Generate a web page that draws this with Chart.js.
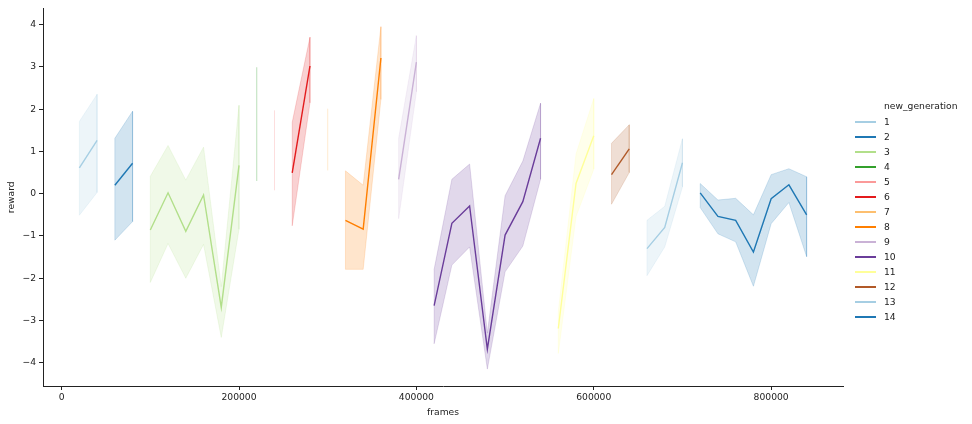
<!DOCTYPE html>
<html>
<head>
<meta charset="utf-8">
<script src="https://cdn.jsdelivr.net/npm/chart.js@4/dist/chart.umd.min.js"></script>
<style>
  html, body { margin: 0; padding: 0; background: #fff; }
  #wrap { position: relative; width: 972px; height: 424px; font-family: "DejaVu Sans", sans-serif; }
  #c { position: absolute; left: 0; top: 0; }
  #legend { position: absolute; left: 855px; top: 0; font-size: 9.2px; color: #222; }
  .lg-title { position: absolute; left: 29px; top: 100px; white-space: nowrap; }
  .lg-item { position: absolute; left: 0; height: 12px; width: 100px; }
  .lg-line { position: absolute; left: 0; top: 5px; width: 21px; height: 2px; }
  .lg-text { position: absolute; left: 29px; top: 0; line-height: 12px; }
</style>
</head>
<body>
<div id="wrap">
  <canvas id="c" width="972" height="424"></canvas>
  <div id="legend"></div>
</div>
<script>
// ---- data ----
const generations = [1, 2, 3, 4, 5, 6, 7, 8, 9, 10, 11, 12, 13, 14];
const palette = ['#a6cee3', '#1f78b4', '#b2df8a', '#33a02c', '#fb9a99', '#e31a1c', '#fdbf6f',
                 '#ff7f00', '#cab2d6', '#6a3d9a', '#ffff99', '#b15928', '#a6cee3', '#1f78b4'];
const frames = [
  [20000, 40000],
  [60000, 80000],
  [100000, 120000, 140000, 160000, 180000, 200000],
  [220000],
  [240000],
  [260000, 280000],
  [300000],
  [320000, 340000, 360000],
  [380000, 400000],
  [420000, 440000, 460000, 480000, 500000, 520000, 540000],
  [560000, 580000, 600000],
  [620000, 640000],
  [660000, 680000, 700000],
  [720000, 740000, 760000, 780000, 800000, 820000, 840000]
];
const rewardMean = [
  [0.61, 1.26],
  [0.20, 0.72],
  [-0.86, 0.02, -0.89, -0.03, -2.69, 0.67],
  [1.65],
  [1.02],
  [0.49, 3.02],
  [1.28],
  [-0.63, -0.84, 3.21],
  [0.34, 3.11],
  [-2.65, -0.70, -0.29, -3.68, -0.98, -0.19, 1.31],
  [-3.19, 0.24, 1.37],
  [0.45, 1.06],
  [-1.30, -0.80, 0.73],
  [0.02, -0.54, -0.63, -1.38, -0.12, 0.21, -0.50]
];
const rewardHigh = [
  [1.71, 2.35],
  [1.31, 1.95],
  [0.41, 1.14, 0.32, 1.10, -2.2, 2.09],
  [2.99],
  [1.97],
  [1.69, 3.70],
  [2.01],
  [0.54, 0.20, 3.95],
  [1.31, 3.74],
  [-1.79, 0.34, 0.70, -3.30, -0.05, 0.77, 2.14],
  [-2.80, 0.94, 2.25],
  [1.19, 1.63],
  [-0.63, -0.30, 1.30],
  [0.24, -0.15, -0.11, -0.50, 0.45, 0.59, 0.40]
];
const rewardLow = [
  [-0.51, 0.03],
  [-1.10, -0.66],
  [-2.10, -1.18, -2.00, -1.20, -3.40, -0.84],
  [0.30],
  [0.08],
  [-0.76, 2.15],
  [0.55],
  [-1.79, -1.79, 2.23],
  [-0.59, 2.41],
  [-3.55, -1.69, -1.26, -4.15, -1.85, -1.24, 0.34],
  [-3.78, -0.54, 0.58],
  [-0.25, 0.50],
  [-1.94, -1.26, 0.16],
  [-0.33, -0.95, -1.14, -2.19, -0.71, -0.21, -1.49]
];
const xTicks = [0, 200000, 400000, 600000, 800000];
const yTicks = [-4, -3, -2, -1, 0, 1, 2, 3, 4];

// ---- helpers ----
function rgba(hex, a) {
  const n = parseInt(hex.slice(1), 16);
  return `rgba(${(n >> 16) & 255},${(n >> 8) & 255},${n & 255},${a})`;
}

const datasets = [];
generations.forEach((g, i) => {
  const fx = frames[i];
  // mean line
  datasets.push({
    label: String(g),
    data: fx.map((x, k) => ({ x: x, y: rewardMean[i][k] })),
    borderColor: palette[i],
    backgroundColor: palette[i],
    borderWidth: 1.4,
    pointRadius: 0,
    fill: false,
    tension: 0
  });
  // confidence band (polygon: upper forward, lower back)
  const upper = fx.map((x, k) => ({ x: x, y: rewardHigh[i][k] }));
  const lower = fx.map((x, k) => ({ x: x, y: rewardLow[i][k] })).reverse();
  datasets.push({
    label: 'band' + g,
    data: upper.concat(lower).concat([upper[0]]),
    borderColor: rgba(palette[i], 0.2),
    backgroundColor: rgba(palette[i], 0.2),
    borderWidth: 0.9,
    pointRadius: 0,
    fill: 'shape',
    tension: 0
  });
});

const textColor = '#222';
const fontFam = '"DejaVu Sans", sans-serif';

new Chart(document.getElementById('c'), {
  type: 'scatter',
  data: { datasets: datasets.map(d => Object.assign({ showLine: true }, d)) },
  options: {
    responsive: false,
    animation: false,
    layout: { padding: { left: 0, right: 129, top: 6, bottom: 0 } },
    plugins: { legend: { display: false }, tooltip: { enabled: false } },
    scales: {
      x: {
        type: 'linear',
        min: -21000,
        max: 881000,
        afterFit: s => { s.height = 38; },
        afterBuildTicks: s => { s.ticks = xTicks.map(v => ({ value: v })); },
        ticks: {
          color: textColor, padding: 2, maxRotation: 0,
          font: { family: fontFam, size: 9.2 },
          callback: v => String(v)
        },
        grid: { drawOnChartArea: false, drawTicks: true, tickLength: 4, color: '#222', lineWidth: 1 },
        border: { display: true, color: '#222', width: 1 },
        title: { display: true, text: 'frames', color: textColor, font: { family: fontFam, size: 9.2 }, padding: { top: 0, bottom: 6 } }
      },
      y: {
        type: 'linear',
        min: -4.55,
        max: 4.38,
        afterFit: s => { s.width = 43; },
        afterBuildTicks: s => { s.ticks = yTicks.map(v => ({ value: v })); },
        ticks: {
          color: textColor, padding: 3,
          font: { family: fontFam, size: 9.2 },
          callback: v => (v < 0 ? '\u2212' + Math.abs(v) : String(v))
        },
        grid: { drawOnChartArea: false, drawTicks: true, tickLength: 4, color: '#222', lineWidth: 1 },
        border: { display: true, color: '#222', width: 1 },
        title: { display: true, text: 'reward', color: textColor, font: { family: fontFam, size: 9.2 }, padding: { top: 6, bottom: 0 } }
      }
    }
  }
});

// ---- legend (HTML) ----
const lg = document.getElementById('legend');
const t = document.createElement('div');
t.className = 'lg-title';
t.textContent = 'new_generation';
lg.appendChild(t);
generations.forEach((g, i) => {
  const it = document.createElement('div');
  it.className = 'lg-item';
  it.style.top = (116 + i * 15) + 'px';
  const ln = document.createElement('div');
  ln.className = 'lg-line';
  ln.style.background = palette[i];
  const tx = document.createElement('div');
  tx.className = 'lg-text';
  tx.textContent = String(g);
  it.appendChild(ln);
  it.appendChild(tx);
  lg.appendChild(it);
});
</script>
</body>
</html>
